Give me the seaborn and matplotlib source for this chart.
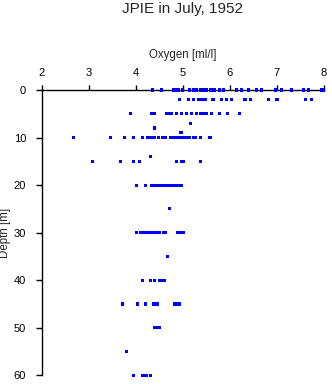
import numpy as np
import pandas as pd
import matplotlib
matplotlib.use("Agg")
import matplotlib.pyplot as plt
import seaborn as sns

# Oxygen [ml/l] values by depth [m]
d0 = [4.35, 4.55, 4.80, 4.85, 4.90, 5.00, 5.15, 5.22, 5.29, 5.37, 5.44, 5.51, 5.58, 5.65, 5.68,
      5.77, 5.87, 6.14, 6.25, 6.39, 6.57, 6.68, 6.96, 7.10, 7.31, 7.56, 7.67, 7.95, 7.99]
d2 = [4.92, 5.12, 5.22, 5.33, 5.40, 5.47, 5.64, 5.83, 5.93, 6.04, 6.32, 6.43, 6.82, 7.00, 7.61, 7.74]
d5 = [3.88, 4.34, 4.39, 4.66, 4.71, 4.76, 4.87, 4.98, 5.08, 5.19, 5.29, 5.38, 5.45, 5.51, 5.61,
      5.77, 5.95, 6.20]
d7 = [5.17]
d8 = [4.39]
d9 = [4.96]
d10 = [2.67, 3.47, 3.76, 3.95, 4.15, 4.26, 4.34, 4.40, 4.49, 4.57, 4.63, 4.73, 4.80, 4.87, 4.94,
       5.01, 5.08, 5.15, 5.22, 5.26, 5.37, 5.56, 5.59]
d14 = [4.32]
d15 = [3.08, 3.67, 3.95, 4.07, 4.86, 4.98, 5.01, 5.37]
d20 = [4.01, 4.21, 4.33, 4.36, 4.40, 4.45, 4.52, 4.55, 4.59, 4.66, 4.71, 4.76, 4.83, 4.88, 4.93, 4.97]
d25 = [4.71]
d30 = [4.01, 4.11, 4.16, 4.21, 4.26, 4.31, 4.36, 4.41, 4.45, 4.50, 4.58, 4.64, 4.88, 4.92, 4.97, 5.01]
d35 = [4.67]
d40 = [4.14, 4.31, 4.40, 4.50, 4.55, 4.60]
d45 = [3.71, 4.04, 4.21, 4.37, 4.43, 4.47, 4.83, 4.88, 4.92]
d50 = [4.39, 4.45, 4.51]
d55 = [3.80]
d60 = [3.96, 4.15, 4.19, 4.23, 4.31]

depth_groups = {0: d0, 2: d2, 5: d5, 7: d7, 8: d8, 9: d9, 10: d10, 14: d14, 15: d15,
                20: d20, 25: d25, 30: d30, 35: d35, 40: d40, 45: d45, 50: d50,
                55: d55, 60: d60}
rows = [(o, dep) for dep, vals in depth_groups.items() for o in vals]
df = pd.DataFrame(rows, columns=["oxygen", "depth"])

x_ticks = [2, 3, 4, 5, 6, 7, 8]
y_ticks = [0, 10, 20, 30, 40, 50, 60]

sns.set_style("ticks")
plt.rcParams['font.family'] = ['Liberation Sans', 'DejaVu Sans']

fig = plt.figure(figsize=(3.32, 3.84), dpi=100)
ax = fig.add_axes([41.7 / 332, 1 - 375.3 / 384, (324 - 41.7) / 332, (375.3 - 90) / 384])

sns.scatterplot(data=df, x="oxygen", y="depth", ax=ax, marker="s", s=5,
                color="#0000ff", edgecolor="none", linewidth=0, clip_on=False, zorder=5)

ax.set_xlim(2, 8)
ax.set_ylim(60, 0)
ax.set_xticks(x_ticks)
ax.set_yticks(y_ticks)
ax.xaxis.tick_top()
ax.xaxis.set_label_position("top")
ax.spines["bottom"].set_visible(False)
ax.spines["right"].set_visible(False)
for s in ["top", "left"]:
    ax.spines[s].set_linewidth(1.0)
    ax.spines[s].set_color("black")
ax.tick_params(axis="x", direction="out", length=3.8, width=1, labelsize=8, colors="black", pad=4.5)
ax.tick_params(axis="y", direction="out", length=4.3, width=1, labelsize=8, colors="black", pad=7)
ax.set_xlabel("Oxygen [ml/l]", fontsize=8.3)
ax.set_ylabel("Depth [m]", fontsize=8.3)
ax.xaxis.set_label_coords(0.5, 1 + 32 / 285.3)
ax.yaxis.set_label_coords((11.5 - 41.7) / 282.3, 0.5)
fig.text((41.7 + 324) / 2 / 332, 1 - 8.5 / 384, "JPIE in July, 1952", ha="center", va="center", fontsize=11)

fig.savefig("out.png", dpi=100)
